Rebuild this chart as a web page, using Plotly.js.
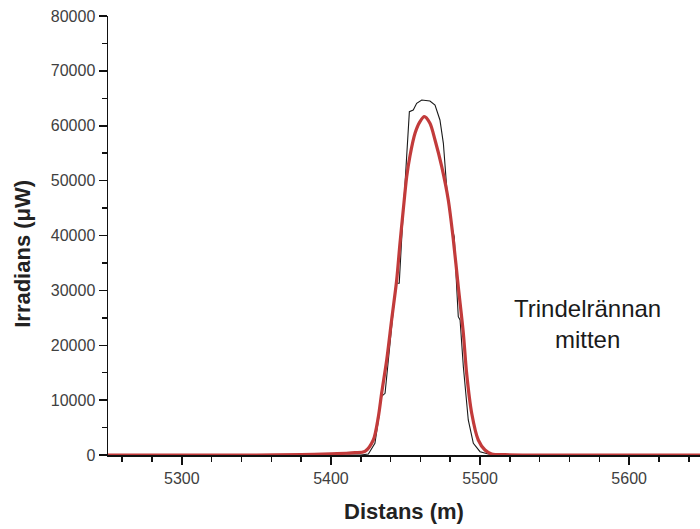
<!DOCTYPE html>
<html>
<head>
<meta charset="utf-8">
<script src="https://cdn.plot.ly/plotly-3.0.1.min.js"></script>
<style>html,body{margin:0;padding:0;background:#fff}#chart{width:700px;height:529px}</style>
</head>
<body>
<div id="chart"></div>
<script>
// Measured irradiance (thin black line)
const measuredX = [5250, 5300, 5350, 5400, 5420, 5425.1, 5429.5, 5432.2, 5433.6, 5436.3, 5438.5, 5440.7, 5443.4, 5444.1, 5445.8, 5447.4, 5449.7, 5451.5, 5452.6, 5455.2, 5457.5, 5460.9, 5463.1, 5466.4, 5469.8, 5473.1, 5475.4, 5477.6, 5481.0, 5482.7, 5484.3, 5485.4, 5486.6, 5488.8, 5492.1, 5495.5, 5500.0, 5505.5, 5510, 5550, 5600, 5650];
const measuredY = [0, 0, 0, 0, 0, 180, 2130, 6980, 10620, 11240, 17310, 23380, 30670, 31290, 31290, 39180, 49510, 58620, 62560, 62870, 64090, 64690, 64600, 64510, 63780, 61050, 56800, 48890, 41600, 39780, 30670, 25200, 24600, 16090, 6380, 2130, 600, 180, 0, 0, 0, 0];

// Fitted curve (thick red line)
const fitX = [5250, 5300, 5350, 5380, 5400, 5410, 5416.1, 5422.8, 5428.4, 5431.8, 5434.0, 5437.4, 5440.7, 5444.1, 5446.3, 5448.5, 5450.8, 5453.0, 5456.4, 5459.7, 5462.6, 5466.4, 5469.8, 5474.3, 5478.7, 5482.1, 5485.4, 5488.8, 5491.0, 5494.4, 5498.8, 5503.3, 5507.8, 5516.7, 5550, 5600, 5650];
const fitY = [0, 0, 0, 80, 220, 320, 420, 650, 2730, 6980, 11240, 17310, 24600, 31890, 38580, 44650, 50720, 54500, 58620, 60740, 61650, 60450, 57400, 52540, 46470, 39180, 30670, 22180, 14890, 7600, 2730, 910, 180, 60, 0, 0, 0];

const xTickVals = [5300, 5400, 5500, 5600];
const yTickVals = [0, 10000, 20000, 30000, 40000, 50000, 60000, 70000, 80000];

const labelText = 'Trindelrännan<br>mitten';
const labelX = 5572;
const labelY = 23900;

const traces = [
  {x: measuredX, y: measuredY, type: 'scatter', mode: 'lines', name: 'Mätt',
   line: {color: '#1a1a1a', width: 1.1}, showlegend: false, hoverinfo: 'x+y'},
  {x: fitX, y: fitY, type: 'scatter', mode: 'lines', name: 'Anpassning',
   line: {color: '#c23b3b', width: 3.2, shape: 'spline', smoothing: 0.8}, showlegend: false, hoverinfo: 'x+y'}
];

const axisFont = {family: 'Liberation Sans, Arial, sans-serif', size: 16, color: '#404040'};
const titleFont = {family: 'Liberation Sans, Arial, sans-serif', size: 22, color: '#222'};
const pad = '\u00A0\u00A0\u00A0\u00A0\u00A0\u00A0';

const layout = {
  width: 700, height: 529,
  margin: {l: 108, r: 0, t: 16, b: 74, pad: 0},
  paper_bgcolor: '#fff', plot_bgcolor: '#fff',
  showlegend: false,
  xaxis: {
    range: [5250.5, 5647.5], tickvals: xTickVals, ticktext: xTickVals.map(String),
    ticks: 'outside', ticklen: 8, tickwidth: 1.5, tickcolor: '#111',
    minor: {dtick: 20, tick0: 5300, ticks: 'outside', ticklen: 5, tickwidth: 1.5, tickcolor: '#111', showgrid: false},
    showline: true, linecolor: '#111', linewidth: 1.5, showgrid: false, zeroline: false,
    tickfont: axisFont,
    title: {text: '<b>Distans (m)</b>', font: titleFont, standoff: 18}
  },
  yaxis: {
    range: [0, 80000], tickvals: yTickVals, ticktext: yTickVals.map(String),
    ticks: 'outside', ticklen: 8, tickwidth: 1.5, tickcolor: '#111',
    minor: {dtick: 5000, tick0: 0, ticks: 'outside', ticklen: 5, tickwidth: 1.5, tickcolor: '#111', showgrid: false},
    showline: true, linecolor: '#111', linewidth: 1.5, showgrid: false, zeroline: false,
    tickfont: axisFont,
    title: {text: '<b>Irradians (μW)' + pad + '</b>', font: titleFont, standoff: 14}
  },
  annotations: [{
    x: labelX, y: labelY, xref: 'x', yref: 'y', text: labelText, showarrow: false,
    xanchor: 'center', yanchor: 'middle', align: 'center',
    font: {family: 'Liberation Sans, Arial, sans-serif', size: 24, color: '#1a1a1a'}
  }]
};

Plotly.newPlot('chart', traces, layout, {staticPlot: true, displayModeBar: false});
</script>
</body>
</html>
